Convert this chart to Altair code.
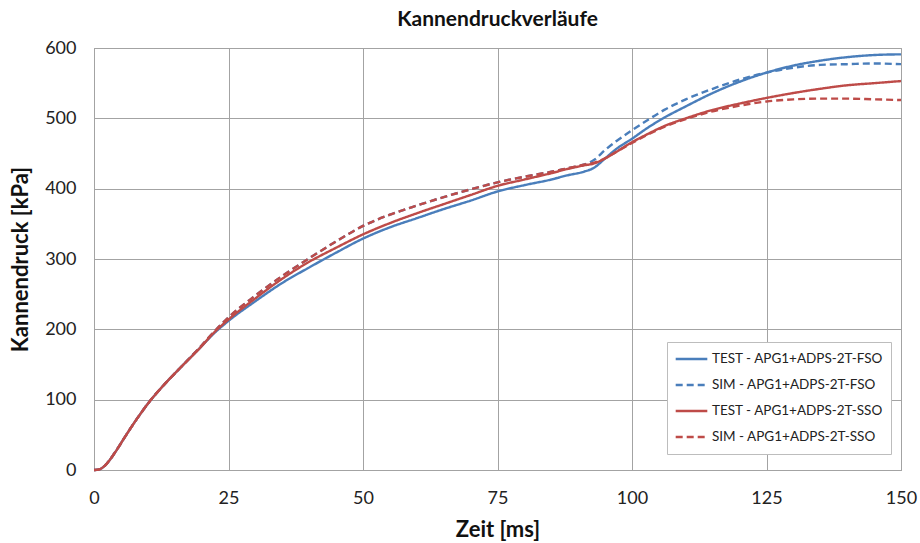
import altair as alt
import pandas as pd

# Time axis [ms] shared by all series
zeit = [0, 1, 2, 3, 4, 6, 8, 10.5, 13, 16, 20, 22, 25, 30, 35, 40, 45, 50, 55, 60,
        65, 70, 75, 80, 85, 88, 91, 93, 95, 97, 100, 103, 106, 110, 115, 120,
        125, 130, 135, 140, 145, 150]

# Can pressure [kPa] per configuration
test_fso = [0, 1, 6, 15, 26, 50, 73, 99, 121, 145, 176, 192, 212, 240, 266, 288, 309, 329, 345, 358,
            371, 383, 396, 405, 413, 419, 424, 430, 443, 456, 471, 487, 501, 517, 536, 552,
            565, 575, 582, 587, 590, 591]
sim_fso = [0, 1, 6, 15, 26, 50, 73, 99, 121, 145, 177, 194, 217, 248, 276, 301, 325, 347, 363, 376,
           388, 399, 409, 417, 424, 429, 434, 441, 455, 467, 483, 498, 512, 527, 542, 555,
           565, 572, 576, 577, 578, 577]
test_sso = [0, 1, 6, 15, 26, 50, 73, 99, 121, 145, 176, 193, 214, 244, 272, 296, 316, 335, 351, 365,
            378, 391, 404, 413, 422, 428, 433, 436, 443, 452, 466, 478, 489, 500, 512, 521,
            529, 536, 542, 547, 550, 553]
sim_sso = [0, 1, 6, 15, 26, 50, 73, 99, 121, 145, 177, 194, 217, 248, 276, 301, 325, 347, 363, 376,
           388, 399, 409, 417, 424, 429, 434, 437, 443, 452, 465, 477, 488, 499, 510, 518,
           524, 527, 528, 528, 527, 526]

series_names = [
    "TEST - APG1+ADPS-2T-FSO",
    "SIM - APG1+ADPS-2T-FSO",
    "TEST - APG1+ADPS-2T-SSO",
    "SIM - APG1+ADPS-2T-SSO",
]
series_values = [test_fso, sim_fso, test_sso, sim_sso]

rows = []
for name, vals in zip(series_names, series_values):
    for t, v in zip(zeit, vals):
        rows.append({"Serie": name, "Zeit": t, "Druck": v})
df = pd.DataFrame(rows)

blue = "#4a7ebb"
red = "#be4b48"
grid = "#a3a3a3"
font = "Lato"

chart = (
    alt.Chart(df)
    .mark_line(strokeWidth=2.4, interpolate="monotone")
    .encode(
        x=alt.X(
            "Zeit:Q",
            scale=alt.Scale(domain=[0, 150], nice=False),
            axis=alt.Axis(values=[0, 25, 50, 75, 100, 125, 150], title="Zeit [ms]"),
        ),
        y=alt.Y(
            "Druck:Q",
            scale=alt.Scale(domain=[0, 600], nice=False),
            axis=alt.Axis(values=[0, 100, 200, 300, 400, 500, 600], title="Kannendruck [kPa]"),
        ),
        color=alt.Color(
            "Serie:N",
            scale=alt.Scale(domain=series_names, range=[blue, blue, red, red]),
            legend=alt.Legend(
                title=None,
                orient="none",
                legendX=573,
                legendY=294,
                symbolType="stroke",
                symbolStrokeWidth=2.4,
                symbolSize=1000,
                clipHeight=20,
                rowPadding=6,
                labelFontSize=13.5,
                labelFont=font,
                labelColor="#222222",
                labelOffset=3,
                labelLimit=400,
                padding=7,
                fillColor="white",
                strokeColor="#bdbdbd",
            ),
        ),
        strokeDash=alt.StrokeDash(
            "Serie:N",
            scale=alt.Scale(domain=series_names, range=[[1, 0], [7, 4], [1, 0], [7, 4]]),
            legend=None,
        ),
        order=alt.Order("Zeit:Q"),
    )
    .properties(
        width=807,
        height=422,
        background="white",
        title=alt.Title("Kannendruckverläufe", font=font, fontSize=21, fontWeight="bold",
                        color="#111111", offset=9),
        autosize=alt.AutoSizeParams(type="none"),
        padding={"left": 94, "top": 48, "right": 19, "bottom": 73},
    )
    .configure_axis(
        grid=True,
        gridColor=grid,
        gridWidth=1,
        domainColor=grid,
        domainWidth=1,
        ticks=False,
        labelFont=font,
        labelFontSize=18,
        labelColor="#222222",
        labelFlush=False,
        titleFont=font,
        titleFontSize=22,
        titleFontWeight="bold",
        titleColor="#111111",
    )
    .configure_axisX(labelPadding=19, titlePadding=12)
    .configure_axisY(labelPadding=18, titlePadding=12)
    .configure_view(stroke=grid, strokeWidth=1)
)

chart.save("out.html", embed_options={"renderer": "svg", "actions": False})
